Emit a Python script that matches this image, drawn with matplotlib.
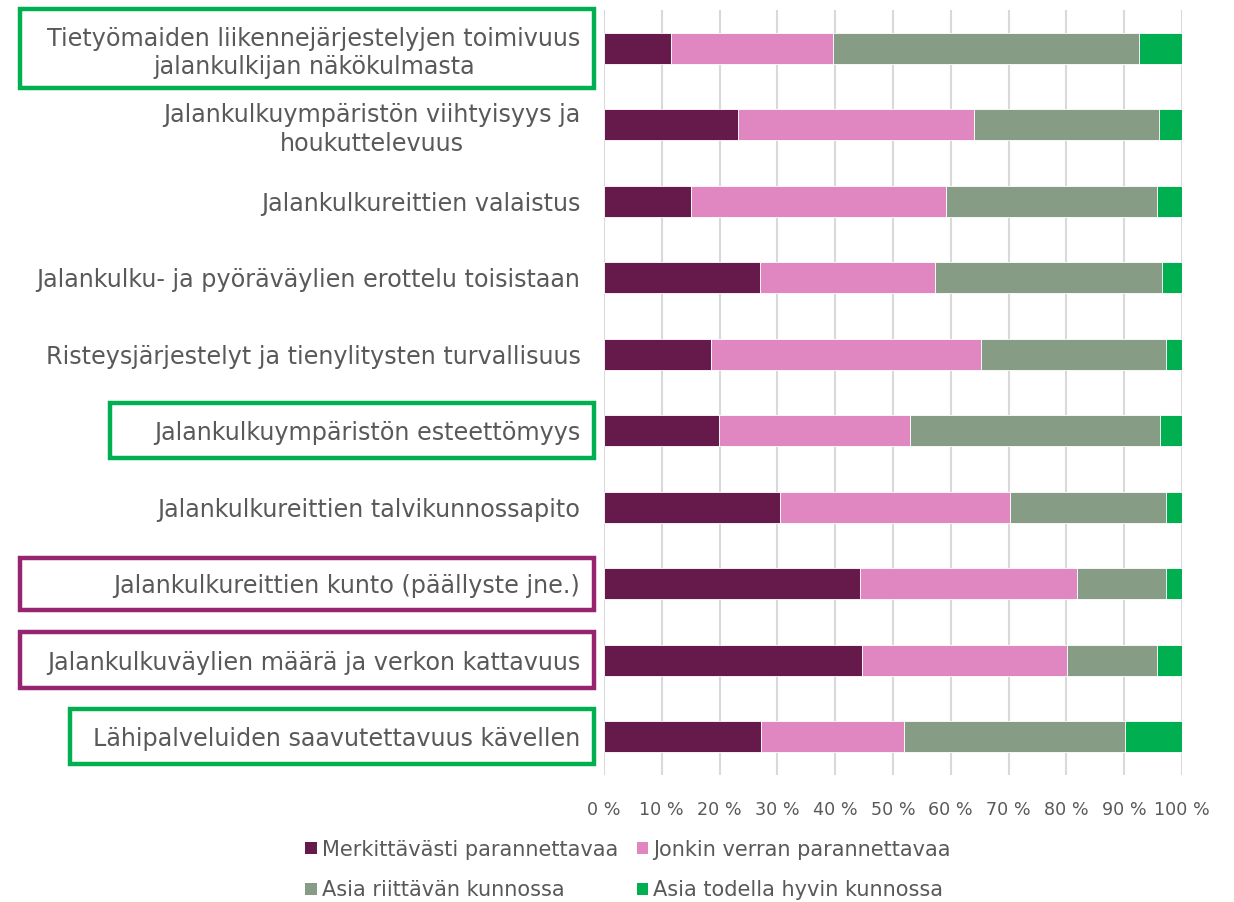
import matplotlib
matplotlib.use("Agg")
import matplotlib.pyplot as plt
import matplotlib.transforms as mtransforms
from matplotlib.patches import Rectangle, Patch
import numpy as np

categories = [
    "Tietyömaiden liikennejärjestelyjen toimivuus\njalankulkijan näkökulmasta",
    "Jalankulkuympäristön viihtyisyys ja\nhoukuttelevuus",
    "Jalankulkureittien valaistus",
    "Jalankulku- ja pyöräväylien erottelu toisistaan",
    "Risteysjärjestelyt ja tienylitysten turvallisuus",
    "Jalankulkuympäristön esteettömyys",
    "Jalankulkureittien talvikunnossapito",
    "Jalankulkureittien kunto (päällyste jne.)",
    "Jalankulkuväylien määrä ja verkon kattavuus",
    "Lähipalveluiden saavutettavuus kävellen",
]
series_names = ["Merkittävästi parannettavaa", "Jonkin verran parannettavaa",
                "Asia riittävän kunnossa", "Asia todella hyvin kunnossa"]
merkittavasti = [11.6, 23.2, 15.1, 27.0, 18.5, 19.9, 30.4, 44.3, 44.6, 27.2]
jonkin_verran = [28.0, 40.8, 44.1, 30.3, 46.7, 33.0, 39.8, 37.5, 35.5, 24.7]
riittava = [53.0, 32.0, 36.5, 39.2, 32.0, 43.3, 27.0, 15.4, 15.6, 38.2]
hyvin = [7.4, 4.0, 4.3, 3.5, 2.8, 3.8, 2.8, 2.8, 4.3, 9.9]
xticks = [0, 10, 20, 30, 40, 50, 60, 70, 80, 90, 100]
xticklabels = [f"{t} %" for t in xticks]

colors = ["#661A4C", "#E086C0", "#869C84", "#00B050"]
text_color = "#595959"

# boxes: (row index, left x in figure fraction, color)
boxes = [(0, 20 / 1234, "#00B050"), (5, 110 / 1234, "#00B050"),
         (7, 20 / 1234, "#962470"), (8, 20 / 1234, "#962470"),
         (9, 70 / 1234, "#00B050")]

fig = plt.figure(figsize=(12.34, 9.02), dpi=100)
ax = fig.add_axes([604 / 1234, 127 / 902, 578 / 1234, 765 / 902])

y = np.arange(len(categories))
left = np.zeros(len(categories))
for vals, col, name in zip([merkittavasti, jonkin_verran, riittava, hyvin], colors, series_names):
    vals = np.array(vals)
    ax.barh(y, vals, left=left, height=0.4, color=col, edgecolor="white",
            linewidth=0.6, label=name, zorder=3)
    left += vals

ax.set_xlim(0, 100)
ax.set_ylim(len(categories) - 0.5, -0.5)
ax.set_xticks(xticks)
ax.set_xticklabels(xticklabels, fontsize=12.6, color=text_color)
ax.set_yticks(y)
ax.set_yticklabels(categories, fontsize=17.2, color=text_color, linespacing=1.25,
                   multialignment="center")
ax.tick_params(axis="both", length=0)
ax.tick_params(axis="y", pad=17)
ax.tick_params(axis="x", pad=19)
ax.grid(axis="x", color="#D9D9D9", linewidth=1.5, zorder=0)
for s in ax.spines.values():
    s.set_visible(False)

box_heights = {0: 79, 5: 55, 7: 52, 8: 56, 9: 55}
trans = mtransforms.blended_transform_factory(fig.transFigure, ax.transData)
row_h_px = 76.5
for row, x0, col in boxes:
    h = box_heights[row] / row_h_px
    rect = Rectangle((x0, row - h / 2), 594 / 1234 - x0, h, transform=trans,
                     fill=False, edgecolor=col, linewidth=3.2, clip_on=False, zorder=5)
    fig.add_artist(rect)

handles = [Patch(facecolor=c, edgecolor="none") for c in colors]
order = [0, 2, 1, 3]
fig.legend([handles[i] for i in order], [series_names[i] for i in order],
           loc="center", bbox_to_anchor=(628 / 1234, 1 - 870 / 902), ncol=2,
           frameon=False, fontsize=15, labelcolor=text_color,
           handlelength=0.55, handleheight=0.55, handletextpad=0.25,
           columnspacing=0.9, labelspacing=1.0)

fig.savefig("out.png", dpi=100)
